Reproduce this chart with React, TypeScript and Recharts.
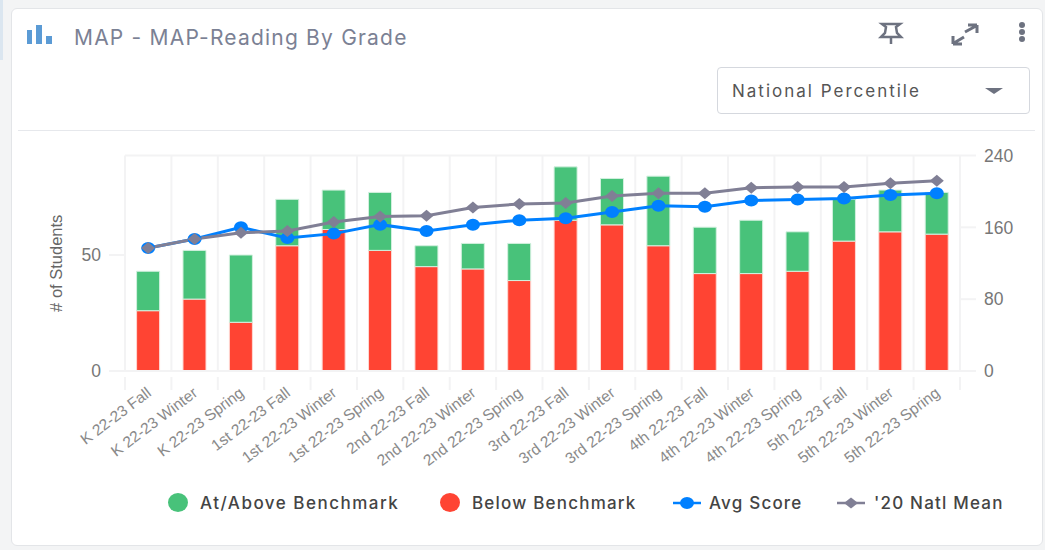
import {
  ComposedChart,
  Bar,
  Line,
  XAxis,
  YAxis,
  CartesianGrid,
  Legend,
} from "recharts";

const categories = [
  "K 22-23 Fall", "K 22-23 Winter", "K 22-23 Spring",
  "1st 22-23 Fall", "1st 22-23 Winter", "1st 22-23 Spring",
  "2nd 22-23 Fall", "2nd 22-23 Winter", "2nd 22-23 Spring",
  "3rd 22-23 Fall", "3rd 22-23 Winter", "3rd 22-23 Spring",
  "4th 22-23 Fall", "4th 22-23 Winter", "4th 22-23 Spring",
  "5th 22-23 Fall", "5th 22-23 Winter", "5th 22-23 Spring",
];
const belowBenchmark = [26, 31, 21, 54, 61, 52, 45, 44, 39, 65, 63, 54, 42, 42, 43, 56, 60, 59];
const atAboveBenchmark = [17, 21, 29, 20, 17, 25, 9, 11, 16, 23, 20, 30, 20, 23, 17, 18, 18, 18];
const avgScore = [137, 147, 160, 148, 153, 163, 156, 163, 168, 170, 177, 184, 183, 190, 191, 192, 196, 198];
const natlMean = [137, 147, 154, 156, 166, 172, 173, 182, 186, 187, 195, 198, 198, 204, 205, 205, 209, 212];

const leftTicks = [0, 50];
const rightTicks = [0, 80, 160, 240];

const GREEN = "#48c27a";
const RED = "#ff4433";
const BLUE = "#0080ff";
const GREY = "#807f95";
const GRID = "#f3f3f4";
const SANS = "'Liberation Sans', Arial, sans-serif";
const UI_FONT = "Inter, Roboto, sans-serif";

const PLOT_LEFT = 125;
const PLOT_RIGHT = 960;
const BAND = (PLOT_RIGHT - PLOT_LEFT) / categories.length;

const rows = categories.map((name, i) => ({
  name,
  below: belowBenchmark[i],
  above: atAboveBenchmark[i],
  avg: avgScore[i],
  natl: natlMean[i],
}));

// band-edge tick marks plus the slanted label
function CategoryTick({ x, y, payload, index }: any) {
  const edge = x - BAND / 2;
  return (
    <g>
      <line x1={edge} x2={edge} y1={y} y2={y + 13} stroke={GRID} strokeWidth={2} />
      {index === categories.length - 1 && (
        <line x1={edge + BAND} x2={edge + BAND} y1={y} y2={y + 13} stroke={GRID} strokeWidth={2} />
      )}
      <text
        x={x + 4}
        y={y + 18}
        textAnchor="end"
        fontSize={15.5}
        fontFamily={SANS}
        fill="#8a8a8a"
        transform={`rotate(-37 ${x + 4} ${y + 18})`}
      >
        {payload.value}
      </text>
    </g>
  );
}

function Diamond({ cx, cy }: any) {
  return <path d={`M${cx - 7} ${cy}L${cx} ${cy - 6}L${cx + 7} ${cy}L${cx} ${cy + 6}Z`} fill={GREY} />;
}

function BlueDot({ cx, cy }: any) {
  return <ellipse cx={cx} cy={cy} rx={7} ry={6} fill={BLUE} />;
}

function ChartLegend() {
  const text = {
    position: "absolute", top: 0, fontFamily: UI_FONT, fontSize: 17, letterSpacing: 1.2, fontWeight: 500,
    color: "#444", lineHeight: "24px", whiteSpace: "nowrap",
  } as const;
  const dot = (left: number, color: string) => (
    <div style={{ position: "absolute", left, top: 2, width: 20, height: 19, borderRadius: "50%", background: color }} />
  );
  const lineKey = (left: number, color: string, diamond: boolean) => (
    <svg style={{ position: "absolute", left, top: 2 }} width={28} height={20}>
      <line x1={0} x2={28} y1={10} y2={10} stroke={color} strokeWidth={2.5} />
      {diamond ? <path d="M7 10L14 4.500L21 10L14 15.500Z" fill={color} /> : <ellipse cx={14} cy={10} rx={7} ry={6} fill={color} />}
    </svg>
  );
  return (
    <div style={{ position: "relative", width: 1045, height: 24 }}>
      {dot(168, GREEN)}
      <span style={{ ...text, left: 200, letterSpacing: 1.5 }}>At/Above Benchmark</span>
      {dot(440, RED)}
      <span style={{ ...text, left: 472 }}>Below Benchmark</span>
      {lineKey(673, BLUE, false)}
      <span style={{ ...text, left: 709 }}>Avg Score</span>
      {lineKey(837, GREY, true)}
      <span style={{ ...text, left: 874 }}>'20 Natl Mean</span>
    </div>
  );
}

function CardChrome() {
  const icon = "#6d7280";
  return (
    <>
      <div style={{ position: "absolute", left: 0, top: 0, width: 3, height: 60, background: "#dbe6f0" }} />
      <div
        style={{
          position: "absolute", left: 11, top: 8, width: 1030, height: 536,
          background: "#fff", border: "1px solid #e3e5e8", borderRadius: 6,
        }}
      />
      <svg style={{ position: "absolute", left: 0, top: 0 }} width={1045} height={135}>
        <rect x={27} y={30} width={5} height={14} fill="#5b9bd5" />
        <rect x={36} y={25} width={6} height={19} fill="#5b9bd5" />
        <rect x={46} y={36} width={6} height={8} fill="#5b9bd5" />
        {/* pin */}
        <path d="M882 24H900L896 27L897 33L901 37H881L885 33L886 27Z M891 37V44" fill="none" stroke={icon} strokeWidth={2.5} />
        {/* expand */}
        <path d="M965 32L976 26M977 25V33M977 25H968M964 37L954 43M953 44V36M953 44H962" fill="none" stroke={icon} strokeWidth={3} />
        <circle cx={1022} cy={25} r={3} fill={icon} />
        <circle cx={1022} cy={32} r={3} fill={icon} />
        <circle cx={1022} cy={39} r={3} fill={icon} />
        <path d="M985 88H1003L994 94Z" fill={icon} />
      </svg>
      <div
        style={{
          position: "absolute", left: 74, top: 24, fontFamily: UI_FONT, fontSize: 21, letterSpacing: 1.2,
          color: "#7b8194", lineHeight: "28px", whiteSpace: "nowrap",
        }}
      >
        MAP - MAP-Reading By Grade
      </div>
      <div
        style={{
          position: "absolute", left: 717, top: 67, width: 313, height: 47, boxSizing: "border-box",
          border: "1px solid #d5d8de", borderRadius: 4,
        }}
      />
      <div
        style={{
          position: "absolute", left: 732, top: 79, fontFamily: UI_FONT, fontSize: 17, letterSpacing: 2,
          color: "#555", lineHeight: "24px", whiteSpace: "nowrap",
        }}
      >
        National Percentile
      </div>
      <div style={{ position: "absolute", left: 18, top: 130, width: 1017, height: 1, background: "#e6e8ec" }} />
    </>
  );
}

export default function App() {
  return (
    <div style={{ position: "fixed", left: 0, top: 0, width: 1045, height: 550, background: "#f3f4f5", overflow: "hidden" }}>
      <CardChrome />
      <div style={{ position: "absolute", left: 0, top: 0 }}>
        <ComposedChart
          width={1045}
          height={550}
          data={rows}
          barCategoryGap="25%"
          margin={{ top: 155.5, left: 45, right: 25, bottom: 75 }}
        >
          <CartesianGrid
            stroke={GRID}
            strokeWidth={2}
            verticalCoordinatesGenerator={({ offset }: any) =>
              categories.concat("").map((_, i) => offset.left + (i * offset.width) / categories.length)
            }
          />
          <XAxis
            dataKey="name"
            xAxisId={0}
            interval={0}
            height={80}
            tickLine={false}
            tickMargin={0}
            axisLine={{ stroke: GRID, strokeWidth: 2 }}
            tick={<CategoryTick />}
          />
          <YAxis
            yAxisId="count"
            width={80}
            domain={[0, 92.9]}
            ticks={leftTicks}
            axisLine={false}
            tickSize={16}
            tickMargin={8}
            tickLine={{ stroke: GRID, strokeWidth: 2 }}
            tick={{ fill: "#777", fontSize: 17.5, fontFamily: SANS }}
            label={{ value: "# of Students", angle: -90, position: "insideLeft", offset: 11, fill: "#666", fontSize: 16.5, fontFamily: SANS, style: { textAnchor: "middle" } }}
          />
          <YAxis
            yAxisId="score"
            orientation="right"
            width={60}
            domain={[0, 240]}
            ticks={rightTicks}
            tickSize={16}
            tickMargin={8}
            axisLine={{ stroke: GRID, strokeWidth: 2 }}
            tickLine={{ stroke: GRID, strokeWidth: 2 }}
            tick={{ fill: "#777", fontSize: 17.5, fontFamily: SANS }}
          />
          <Legend content={<ChartLegend />} wrapperStyle={{ left: 0, width: 1045, bottom: 35 }} />
          <Bar yAxisId="count" dataKey="below" name="Below Benchmark" stackId="a" fill={RED} stroke="#ffd9d4" strokeWidth={1} isAnimationActive={false} />
          <Bar yAxisId="count" dataKey="above" name="At/Above Benchmark" stackId="a" fill={GREEN} stroke="#d3f0df" strokeWidth={1} isAnimationActive={false} />
          <Line yAxisId="score" dataKey="avg" name="Avg Score" stroke={BLUE} strokeWidth={3} dot={<BlueDot />} activeDot={false} isAnimationActive={false} />
          <Line yAxisId="score" dataKey="natl" name="'20 Natl Mean" stroke={GREY} strokeWidth={3} dot={<Diamond />} activeDot={false} isAnimationActive={false} />
        </ComposedChart>
      </div>
    </div>
  );
}
